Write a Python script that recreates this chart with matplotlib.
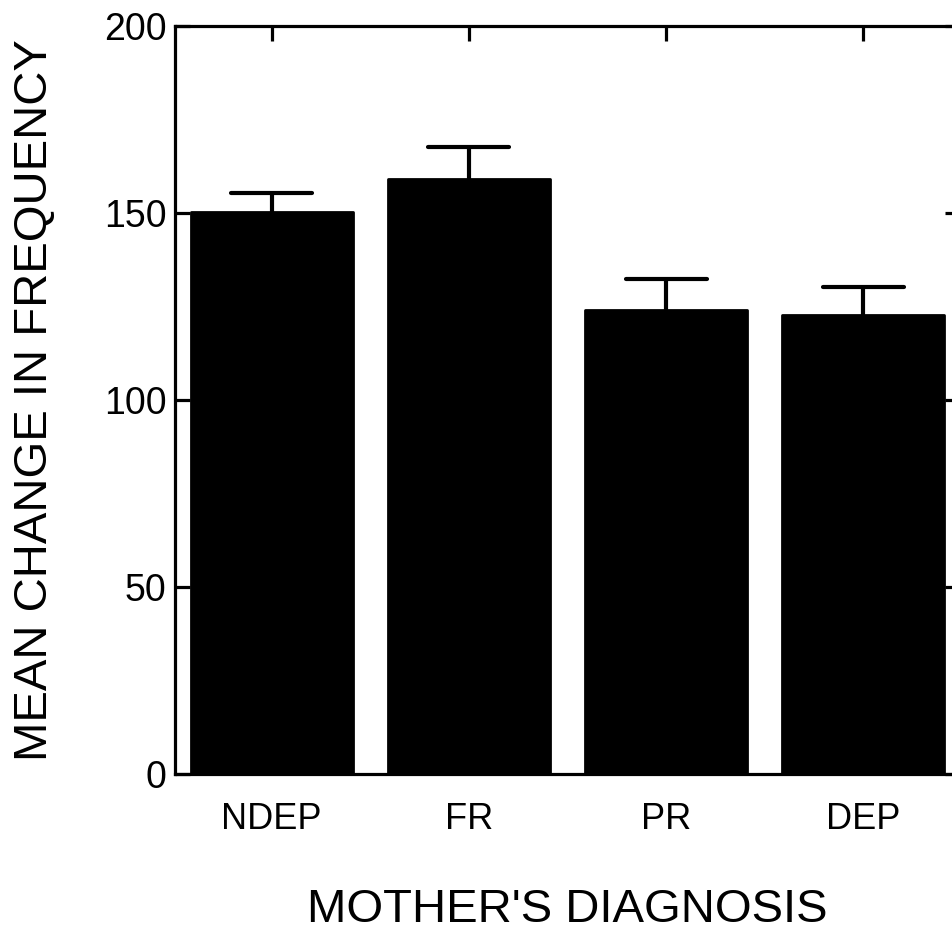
import matplotlib
matplotlib.use("Agg")
import matplotlib.pyplot as plt

categories = ["NDEP", "FR", "PR", "DEP"]
means = [150.4, 159.0, 124.0, 122.8]
upper_err = [4.9, 8.6, 8.3, 7.4]
yticks = [0, 50, 100, 150, 200]

plt.rcParams['font.family'] = ['Liberation Sans', 'DejaVu Sans']

fig = plt.figure(figsize=(9.53, 9.33), dpi=100)
ax = fig.add_axes([175/953, 1-774/933, (960-175)/953, (774-26)/933])

x = list(range(len(categories)))
tops = [m + e for m, e in zip(means, upper_err)]
ax.bar(x, means, width=0.82, color='black', edgecolor='black', linewidth=2,
       joinstyle='round', zorder=3)
ax.vlines(x, means, tops, colors='black', linewidth=3, zorder=2)
ax.hlines(tops, [xi - 0.205 for xi in x], [xi + 0.205 for xi in x],
          colors='black', linewidth=3, capstyle='round', zorder=2)

ax.set_xlim(-0.49, 3.49)
ax.set_ylim(0, 200)
ax.set_yticks(yticks)
ax.set_xticks(x)
ax.set_xticklabels(categories)

for s in ax.spines.values():
    s.set_linewidth(2.3)
    s.set_color('black')

ax.tick_params(axis='y', which='both', direction='in', length=11, width=2.3,
               left=True, right=True, labelsize=27, pad=6)
ax.tick_params(axis='x', which='both', direction='in', length=11, width=2.3,
               bottom=False, top=True, labelsize=26, pad=20)

ax.set_xlabel("MOTHER'S DIAGNOSIS", fontsize=34, labelpad=37)
ax.set_ylabel("MEAN CHANGE IN FREQUENCY", fontsize=34, labelpad=34)

fig.savefig("out.png", dpi=100)
